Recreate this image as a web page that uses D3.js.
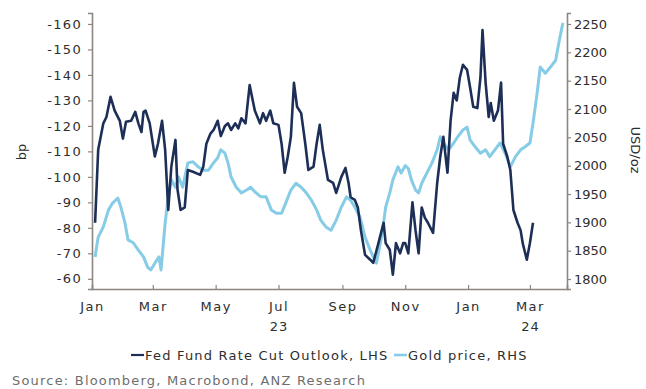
<!DOCTYPE html>
<html>
<head>
<meta charset="utf-8">
<script src="https://cdn.jsdelivr.net/npm/d3@7"></script>
<style>
  html, body { margin: 0; padding: 0; background: #ffffff; }
  svg { display: block; }
  text { font-family: "DejaVu Sans", Verdana, sans-serif; }
</style>
</head>
<body>
<svg id="chart" width="646" height="389"></svg>
<script>
// Fed funds rate-cut outlook (bp of cuts priced, shown negative) – left axis
const fedDates = [
  "2023-01-04","2023-01-07","2023-01-12","2023-01-15","2023-01-19","2023-01-23","2023-01-28","2023-01-31",
  "2023-02-03","2023-02-08","2023-02-12","2023-02-15","2023-02-18","2023-02-20","2023-02-22","2023-02-26",
  "2023-03-03","2023-03-06","2023-03-10","2023-03-13","2023-03-16","2023-03-19","2023-03-23","2023-03-25",
  "2023-03-28","2023-04-01","2023-04-04","2023-04-09","2023-04-16","2023-04-19","2023-04-22","2023-04-26",
  "2023-04-29","2023-05-03","2023-05-06","2023-05-10","2023-05-13","2023-05-16","2023-05-20","2023-05-23",
  "2023-05-26","2023-05-30","2023-06-03","2023-06-08","2023-06-13","2023-06-16","2023-06-19","2023-06-23",
  "2023-06-26","2023-07-01","2023-07-04","2023-07-07","2023-07-10","2023-07-13","2023-07-16","2023-07-19",
  "2023-07-23","2023-07-27","2023-07-30","2023-08-04","2023-08-07","2023-08-10","2023-08-13","2023-08-18",
  "2023-08-23","2023-08-26","2023-08-31","2023-09-04","2023-09-07","2023-09-09","2023-09-13","2023-09-16",
  "2023-09-19","2023-09-23","2023-09-28","2023-10-01","2023-10-06","2023-10-11","2023-10-13","2023-10-17",
  "2023-10-20","2023-10-23","2023-10-27","2023-10-30","2023-11-01","2023-11-04","2023-11-08","2023-11-11",
  "2023-11-14","2023-11-17","2023-11-20","2023-11-23","2023-11-28","2023-12-02","2023-12-05","2023-12-08",
  "2023-12-12","2023-12-15","2023-12-18","2023-12-21","2023-12-24","2023-12-27","2023-12-31","2024-01-03",
  "2024-01-06","2024-01-10","2024-01-13","2024-01-15","2024-01-18","2024-01-21","2024-01-23","2024-01-26",
  "2024-01-30","2024-02-02","2024-02-04","2024-02-08","2024-02-11","2024-02-14","2024-02-18","2024-02-21",
  "2024-02-23","2024-02-27","2024-03-01","2024-03-04"
];
const fedValues = [
  -82,-110.6,-121,-123.5,-131.4,-126,-122,-115,
  -121.6,-122,-125.5,-121,-117.6,-125.5,-126,-121,
  -108,-113,-122,-110.6,-87,-104,-114.5,-95,
  -87,-88,-102.7,-102,-100.8,-104,-113,-117,
  -118.4,-122,-116,-120,-121,-118.4,-121,-119,
  -123,-121,-136,-126,-121,-125,-122,-126,
  -121,-120.4,-113,-101.6,-108,-115.7,-136.9,-127.5,
  -125,-113,-102.7,-104,-113,-120.4,-110.6,-98.8,
  -97.6,-93.7,-100,-103.5,-97.6,-92,-91,-88,
  -79,-69.4,-67.5,-66.3,-74,-82,-74,-71.4,
  -61.6,-74,-70,-74,-74,-70,-90,-79,
  -70,-88,-84,-82,-78,-97.6,-108,-115.7,
  -101.6,-122,-133,-130,-139,-144,-142,-135,
  -127.5,-127,-139,-157.6,-137,-123.5,-129,-122,
  -126,-137,-113,-108,-102.7,-87,-82,-79,
  -74,-67.5,-74,-82
];

// Gold price, USD/oz – right axis
const goldDates = [
  "2023-01-04","2023-01-07","2023-01-12","2023-01-17","2023-01-21","2023-01-26","2023-01-29","2023-02-02",
  "2023-02-05","2023-02-10","2023-02-15","2023-02-20","2023-02-24","2023-02-27","2023-03-03","2023-03-07",
  "2023-03-09","2023-03-13","2023-03-16","2023-03-19","2023-03-23","2023-03-26","2023-03-30","2023-04-04",
  "2023-04-09","2023-04-14","2023-04-19","2023-04-24","2023-04-29","2023-05-03","2023-05-06","2023-05-10",
  "2023-05-13","2023-05-16","2023-05-21","2023-05-26","2023-05-31","2023-06-04","2023-06-08","2023-06-14",
  "2023-06-19","2023-06-24","2023-06-29","2023-07-04","2023-07-08","2023-07-13","2023-07-18","2023-07-23",
  "2023-07-28","2023-08-02","2023-08-07","2023-08-11","2023-08-16","2023-08-21","2023-08-26","2023-08-31",
  "2023-09-05","2023-09-09","2023-09-13","2023-09-18","2023-09-23","2023-09-28","2023-10-01","2023-10-04",
  "2023-10-08","2023-10-11","2023-10-13","2023-10-17","2023-10-20","2023-10-25","2023-10-28","2023-11-01",
  "2023-11-04","2023-11-07","2023-11-11","2023-11-14","2023-11-17","2023-11-22","2023-11-27","2023-12-02",
  "2023-12-05","2023-12-08","2023-12-13","2023-12-18","2023-12-22","2023-12-27","2023-12-31","2024-01-03",
  "2024-01-08","2024-01-13","2024-01-18","2024-01-22","2024-01-27","2024-02-01","2024-02-06","2024-02-11",
  "2024-02-16","2024-02-21","2024-02-25","2024-03-01","2024-03-04","2024-03-08","2024-03-11","2024-03-16",
  "2024-03-21","2024-03-26","2024-03-29","2024-04-02"
];
const goldValues = [
  1839,1874,1892,1922,1934,1943,1927,1899,
  1869,1864,1851,1839,1821,1816,1828,1839,
  1816,1899,1945,1975,1962,1980,1962,2005,
  2007,1998,1992,1992,2005,2014,2028,2022,
  2005,1980,1962,1952,1957,1962,1954,1945,
  1945,1922,1916,1916,1934,1957,1969,1962,
  1952,1939,1922,1904,1892,1886,1904,1927,
  1945,1939,1927,1910,1874,1851,1839,1828,
  1864,1899,1927,1952,1975,1998,1987,2000,
  1995,1975,1957,1952,1969,1987,2005,2028,
  2051,2040,2028,2040,2051,2063,2068,2045,
  2033,2022,2028,2016,2028,2040,2022,1998,
  2016,2028,2033,2040,2075,2128,2174,2163,
  2174,2186,2216,2252
];

// Axis ticks and labels
const leftTicks = [-160,-150,-140,-130,-120,-110,-100,-90,-80,-70,-60];
const rightTicks = [1800,1850,1900,1950,2000,2050,2100,2150,2200,2250];
const monthTicks = ["2023-01-01","2023-03-01","2023-05-01","2023-07-01","2023-09-01","2023-11-01","2024-01-01","2024-03-01"];
const yearLabels = { "2023-07-01": "23", "2024-03-01": "24" };

const seriesNames = ["Fed Fund Rate Cut Outlook, LHS", "Gold price, RHS"];
const sourceText = "Source:  Bloomberg, Macrobond, ANZ Research";

const parse = d3.timeParse("%Y-%m-%d");
const fmtMonth = d3.timeFormat("%b");

const fedColor = "#1d2f57";
const goldColor = "#86cce6";
const axisColor = "#8c8580";
const textColor = "#2e2e2e";
const fontSize = "13px";

const svg = d3.select("#chart");
const plot = { left: 92, right: 567, top: 13, bottom: 289 };

const x = d3.scaleTime()
  .domain([parse("2023-01-01"), parse("2024-04-06")])
  .range([plot.left, plot.right]);
const yL = d3.scaleLinear().domain([-56, -164.3]).range([plot.bottom, plot.top]);
const yR = d3.scaleLinear().domain([1782.4, 2269.4]).range([plot.bottom, plot.top]);

const fed = fedDates.map((d, i) => ({ date: parse(d), v: fedValues[i] }));
const gold = goldDates.map((d, i) => ({ date: parse(d), v: goldValues[i] }));

// Series lines: gold behind, Fed outlook on top
svg.append("path")
  .datum(gold)
  .attr("fill", "none")
  .attr("stroke", goldColor)
  .attr("stroke-width", 3)
  .attr("stroke-linejoin", "round")
  .attr("d", d3.line().x(d => x(d.date)).y(d => yR(d.v)));

svg.append("path")
  .datum(fed)
  .attr("fill", "none")
  .attr("stroke", fedColor)
  .attr("stroke-width", 2.6)
  .attr("stroke-linejoin", "round")
  .attr("d", d3.line().x(d => x(d.date)).y(d => yL(d.v)));

// Left axis
const gL = svg.append("g").attr("transform", `translate(${plot.left},0)`)
  .call(d3.axisLeft(yL).tickValues(leftTicks).tickFormat(d => String(d)).tickSize(4).tickPadding(6));
// Right axis
const gR = svg.append("g").attr("transform", `translate(${plot.right},0)`)
  .call(d3.axisRight(yR).tickValues(rightTicks).tickFormat(d => String(d)).tickSize(4).tickPadding(3));
// Bottom axis
const gB = svg.append("g").attr("transform", `translate(0,${plot.bottom})`)
  .call(d3.axisBottom(x).tickValues(monthTicks.map(parse)).tickFormat(fmtMonth).tickSize(-4).tickPadding(13));

[gL, gR, gB].forEach(g => {
  g.select(".domain").attr("stroke", axisColor).attr("stroke-width", 1.6);
  g.selectAll(".tick line").attr("stroke", axisColor).attr("stroke-width", 1.2);
  g.selectAll(".tick text")
    .attr("fill", textColor)
    .style("font-size", fontSize)
    .style("font-family", "'DejaVu Sans', Verdana, sans-serif");
});
gL.selectAll(".tick text").style("letter-spacing", "1.3px");
gB.selectAll(".tick text").style("letter-spacing", "1.5px");

// Year labels under the month labels
gB.selectAll(".tick").each(function (d) {
  const key = d3.timeFormat("%Y-%m-%d")(d);
  if (yearLabels[key]) {
    d3.select(this).append("text")
      .attr("y", 42)
      .attr("text-anchor", "middle")
      .attr("fill", textColor)
      .style("font-size", fontSize)
      .style("letter-spacing", "1px")
      .text(yearLabels[key]);
  }
});

// Axis titles
svg.append("text")
  .attr("transform", "translate(26,152) rotate(-90)")
  .attr("text-anchor", "middle")
  .attr("fill", textColor)
  .style("font-size", fontSize)
  .text("bp");

svg.append("text")
  .attr("transform", "translate(631,150) rotate(90)")
  .attr("text-anchor", "middle")
  .attr("fill", textColor)
  .style("font-size", fontSize)
  .text("USD/oz");

// Legend
const legend = svg.append("g").attr("transform", "translate(0,355)");
const legendItems = [
  { name: seriesNames[0], color: fedColor, x0: 131, width: 2.2 },
  { name: seriesNames[1], color: goldColor, x0: 394, width: 2.6 }
];
legendItems.forEach(item => {
  legend.append("line")
    .attr("x1", item.x0).attr("x2", item.x0 + 13)
    .attr("y1", 0).attr("y2", 0)
    .attr("stroke", item.color).attr("stroke-width", item.width);
  legend.append("text")
    .attr("x", item.x0 + 14)
    .attr("y", 4.5)
    .attr("fill", textColor)
    .style("font-size", fontSize)
    .style("letter-spacing", "1.2px")
    .text(item.name);
});

// Source note
svg.append("text")
  .attr("x", 12)
  .attr("y", 385)
  .attr("fill", "#6e6e6e")
  .style("font-size", fontSize)
  .style("letter-spacing", "1.2px")
  .text(sourceText);
</script>
</body>
</html>
